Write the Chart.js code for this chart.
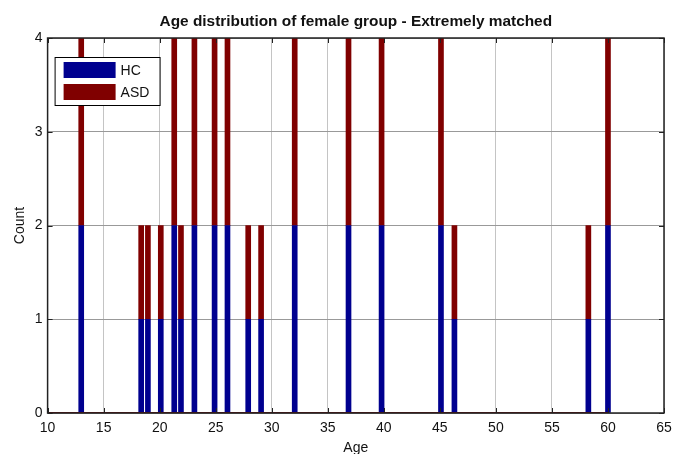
<!DOCTYPE html>
<html>
<head>
<meta charset="utf-8">
<script src="https://cdn.jsdelivr.net/npm/chart.js@4"></script>
<style>
  html, body { margin: 0; padding: 0; background: #fff; }
  #wrap { width: 673px; height: 454px; }
</style>
</head>
<body>
<div id="wrap"><canvas id="ageChart" width="673" height="454"></canvas></div>
<script>
// ages (bin centres) and counts per group
const ages = [13, 18.35, 18.95, 20.1, 21.3, 21.9, 23.1, 24.9, 26.05, 27.9, 29.05, 32.05, 36.85, 39.8, 45.1, 46.3, 58.25, 60];
const hcCounts = [2, 1, 1, 1, 2, 1, 2, 2, 2, 1, 1, 2, 2, 2, 2, 1, 1, 2];
const asdCounts = [2, 1, 1, 1, 2, 1, 2, 2, 2, 1, 1, 2, 2, 2, 2, 1, 1, 2];
const xTicks = [10, 15, 20, 25, 30, 35, 40, 45, 50, 55, 60, 65];
const yTicks = [0, 1, 2, 3, 4];
const baseRange = [10, 60];
const chartTitle = "Age distribution of female group - Extremely matched";

const BLUE = "#00008f";
const RED = "#800000";
const FONT = "'Liberation Sans', Arial, sans-serif";

// box around the axes + inward ticks, like matlab
const boxPlugin = {
  id: "box",
  afterDatasetsDraw(chart) {
    const { ctx, chartArea: a, scales } = chart;
    ctx.save();
    ctx.strokeStyle = "#222";
    ctx.lineWidth = 1;
    xTicks.forEach(v => {
      const px = Math.round(scales.x.getPixelForValue(v)) + 0.5;
      ctx.beginPath();
      ctx.moveTo(px, a.bottom); ctx.lineTo(px, a.bottom - 5);
      ctx.moveTo(px, a.top); ctx.lineTo(px, a.top + 5);
      ctx.stroke();
    });
    yTicks.forEach(v => {
      const py = Math.round(scales.y.getPixelForValue(v)) + 0.5;
      ctx.beginPath();
      ctx.moveTo(a.left, py); ctx.lineTo(a.left + 5, py);
      ctx.moveTo(a.right, py); ctx.lineTo(a.right - 5, py);
      ctx.stroke();
    });
    ctx.lineWidth = 1.5;
    ctx.strokeRect(a.left, a.top, a.right - a.left, a.bottom - a.top);
    ctx.restore();
  }
};

// title centred over the axes (matlab style), not over the canvas
const axesTitle = {
  id: "axesTitle",
  afterDraw(chart) {
    const { ctx, chartArea: a } = chart;
    ctx.save();
    ctx.fillStyle = "#111";
    ctx.font = "bold 15.4px " + FONT;
    ctx.textAlign = "center";
    ctx.textBaseline = "middle";
    ctx.fillText(chartTitle, (a.left + a.right) / 2, 21.5);
    ctx.restore();
  }
};

// legend drawn inside the plot, top-left
const insideLegend = {
  id: "insideLegend",
  afterDraw(chart) {
    const { ctx, chartArea: a } = chart;
    const x0 = a.left + 7, y0 = a.top + 19;
    ctx.save();
    ctx.fillStyle = "#fff";
    ctx.fillRect(x0, y0, 105, 48);
    ctx.strokeStyle = "#000";
    ctx.lineWidth = 1;
    ctx.strokeRect(x0 + 0.5, y0 + 0.5, 105, 48);
    const items = chart.data.datasets.filter(d => d.type !== "line");
    items.forEach((d, i) => {
      const y = y0 + 5 + i * 22;
      ctx.fillStyle = d.backgroundColor;
      ctx.fillRect(x0 + 9, y, 52, 16);
      ctx.fillStyle = "#111";
      ctx.font = "14px " + FONT;
      ctx.textBaseline = "middle";
      ctx.fillText(d.label, x0 + 66, y + 9);
    });
    ctx.restore();
  }
};

const ctx = document.getElementById("ageChart").getContext("2d");
new Chart(ctx, {
  type: "bar",
  data: {
    datasets: [
      {
        label: "HC",
        data: ages.map((a, i) => ({ x: a, y: hcCounts[i] })),
        backgroundColor: BLUE,
        barThickness: 5,
        stack: "g"
      },
      {
        label: "ASD",
        data: ages.map((a, i) => ({ x: a, y: asdCounts[i] })),
        backgroundColor: RED,
        barThickness: 5,
        stack: "g"
      },
      {
        type: "line",
        label: "base",
        data: baseRange.map(v => ({ x: v, y: 0 })),
        borderColor: RED,
        borderWidth: 2,
        pointRadius: 0,
        stack: "base",
        order: -1
      }
    ]
  },
  options: {
    responsive: false,
    animation: false,
    layout: { padding: { top: 38, right: 9, left: 0, bottom: 0 } },
    plugins: {
      legend: { display: false },
      tooltip: { enabled: false },
      title: { display: false }
    },
    scales: {
      x: {
        type: "linear",
        stacked: true,
        offset: false,
        min: 10,
        max: 65,
        afterBuildTicks: s => { s.ticks = xTicks.map(v => ({ value: v })); },
        afterFit: s => { s.height = 41; s.paddingLeft = 0; s.paddingRight = 0; },
        grid: { color: "#c4c4c4", drawTicks: false, offset: false },
        border: { display: false },
        ticks: { color: "#111", font: { family: FONT, size: 14 }, padding: 7, maxRotation: 0 },
        title: { display: true, text: "Age", color: "#111", font: { family: FONT, size: 14, lineHeight: 1 }, padding: { top: 0, bottom: -1 } }
      },
      y: {
        stacked: true,
        min: 0,
        max: 4,
        afterBuildTicks: s => { s.ticks = yTicks.map(v => ({ value: v })); },
        afterFit: s => { s.width = 47.6; s.paddingTop = 0; s.paddingBottom = 0; },
        grid: { color: "#999", drawTicks: false },
        border: { display: false },
        ticks: { color: "#111", font: { family: FONT, size: 14 }, padding: 5 },
        title: { display: true, text: "Count", color: "#111", font: { family: FONT, size: 14 }, padding: { top: 11.6, bottom: 0 } }
      }
    }
  },
  plugins: [boxPlugin, axesTitle, insideLegend]
});
</script>
</body>
</html>
